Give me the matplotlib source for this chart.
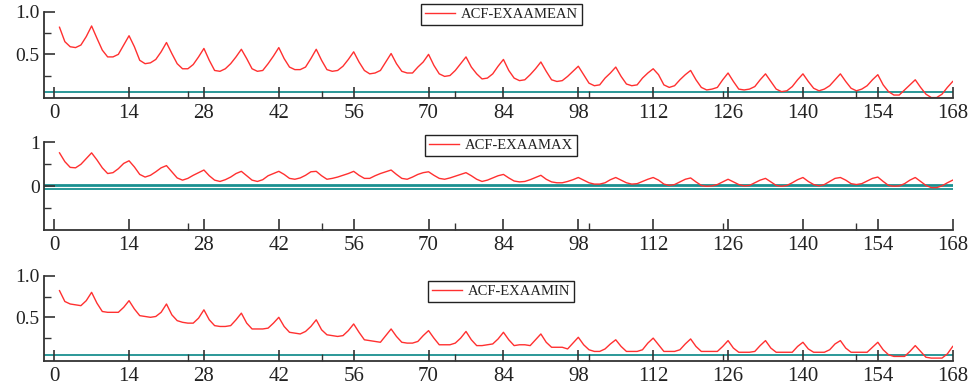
import matplotlib
matplotlib.use("Agg")
import matplotlib.pyplot as plt
from matplotlib.ticker import FixedLocator

plt.rcParams["font.family"] = ["Liberation Serif", "DejaVu Serif"]

# autocorrelation values for lags 1..168
lags = list(range(1, 169))

acf_mean = [
    0.82, 0.65, 0.59, 0.58, 0.61, 0.71, 0.835, 0.69, 0.55, 0.47, 0.47, 0.50, 0.61, 0.72,
    0.59, 0.43, 0.39, 0.40, 0.44, 0.53, 0.64, 0.51, 0.39, 0.33, 0.33, 0.38, 0.47, 0.57,
    0.43, 0.31, 0.30, 0.33, 0.39, 0.47, 0.56, 0.45, 0.33, 0.30, 0.31, 0.39, 0.48, 0.58,
    0.45, 0.35, 0.32, 0.32, 0.35, 0.45, 0.56, 0.43, 0.32, 0.30, 0.31, 0.36, 0.44, 0.53,
    0.41, 0.31, 0.27, 0.28, 0.31, 0.41, 0.51, 0.39, 0.30, 0.28, 0.28, 0.35, 0.41, 0.50,
    0.37, 0.27, 0.24, 0.25, 0.31, 0.39, 0.47, 0.35, 0.27, 0.21, 0.22, 0.27, 0.36, 0.44,
    0.31, 0.22, 0.19, 0.20, 0.26, 0.33, 0.41, 0.30, 0.20, 0.18, 0.19, 0.24, 0.30, 0.36,
    0.26, 0.16, 0.13, 0.14, 0.22, 0.28, 0.35, 0.24, 0.15, 0.13, 0.14, 0.22, 0.28, 0.33,
    0.26, 0.14, 0.11, 0.13, 0.20, 0.26, 0.31, 0.20, 0.11, 0.08, 0.09, 0.11, 0.20, 0.28,
    0.18, 0.09, 0.08, 0.09, 0.12, 0.20, 0.27, 0.18, 0.09, 0.06, 0.07, 0.12, 0.20, 0.27,
    0.18, 0.10, 0.07, 0.09, 0.13, 0.20, 0.27, 0.18, 0.10, 0.07, 0.09, 0.13, 0.20, 0.26,
    0.14, 0.06, 0.02, 0.02, 0.08, 0.14, 0.20, 0.11, 0.03, -0.01, -0.01, 0.03, 0.11, 0.18,
]

acf_max = [
    0.76, 0.56, 0.43, 0.42, 0.50, 0.63, 0.76, 0.60, 0.42, 0.29, 0.31, 0.40, 0.52, 0.58,
    0.44, 0.27, 0.21, 0.25, 0.33, 0.42, 0.47, 0.33, 0.19, 0.14, 0.18, 0.25, 0.31, 0.37,
    0.24, 0.14, 0.11, 0.15, 0.21, 0.29, 0.34, 0.24, 0.14, 0.11, 0.15, 0.24, 0.29, 0.34,
    0.27, 0.18, 0.16, 0.19, 0.25, 0.33, 0.34, 0.24, 0.16, 0.18, 0.21, 0.25, 0.29, 0.34,
    0.25, 0.18, 0.18, 0.24, 0.29, 0.33, 0.37, 0.27, 0.18, 0.16, 0.21, 0.27, 0.31, 0.33,
    0.25, 0.18, 0.16, 0.19, 0.23, 0.27, 0.31, 0.24, 0.16, 0.11, 0.14, 0.19, 0.24, 0.27,
    0.19, 0.12, 0.10, 0.11, 0.15, 0.20, 0.25, 0.16, 0.10, 0.08, 0.08, 0.11, 0.15, 0.20,
    0.14, 0.08, 0.05, 0.05, 0.08, 0.15, 0.20, 0.14, 0.08, 0.05, 0.06, 0.11, 0.16, 0.20,
    0.14, 0.05, 0.02, 0.04, 0.10, 0.16, 0.19, 0.10, 0.02, 0.00, 0.01, 0.04, 0.10, 0.16,
    0.10, 0.04, 0.01, 0.02, 0.08, 0.14, 0.18, 0.10, 0.02, 0.00, 0.02, 0.08, 0.15, 0.20,
    0.11, 0.04, 0.01, 0.04, 0.11, 0.18, 0.20, 0.14, 0.06, 0.04, 0.06, 0.12, 0.18, 0.21,
    0.11, 0.02, 0.00, 0.01, 0.06, 0.14, 0.20, 0.11, 0.02, -0.03, -0.03, 0.01, 0.08, 0.14,
]

acf_min = [
    0.82, 0.69, 0.66, 0.65, 0.64, 0.70, 0.80, 0.67, 0.57, 0.56, 0.56, 0.56, 0.62, 0.70,
    0.60, 0.52, 0.51, 0.50, 0.51, 0.56, 0.66, 0.53, 0.46, 0.44, 0.43, 0.43, 0.49, 0.59,
    0.47, 0.40, 0.39, 0.39, 0.40, 0.47, 0.55, 0.43, 0.36, 0.36, 0.36, 0.37, 0.43, 0.50,
    0.39, 0.32, 0.31, 0.30, 0.33, 0.39, 0.47, 0.35, 0.29, 0.28, 0.27, 0.28, 0.34, 0.42,
    0.32, 0.23, 0.22, 0.21, 0.20, 0.28, 0.36, 0.27, 0.20, 0.19, 0.19, 0.21, 0.28, 0.34,
    0.25, 0.17, 0.17, 0.17, 0.19, 0.25, 0.33, 0.23, 0.16, 0.16, 0.17, 0.18, 0.24, 0.32,
    0.23, 0.16, 0.17, 0.17, 0.16, 0.23, 0.30, 0.20, 0.14, 0.14, 0.14, 0.12, 0.19, 0.26,
    0.17, 0.11, 0.09, 0.09, 0.12, 0.18, 0.23, 0.15, 0.09, 0.09, 0.09, 0.11, 0.19, 0.25,
    0.17, 0.09, 0.09, 0.09, 0.11, 0.18, 0.24, 0.15, 0.09, 0.09, 0.09, 0.09, 0.15, 0.22,
    0.13, 0.08, 0.08, 0.08, 0.09, 0.16, 0.22, 0.13, 0.08, 0.08, 0.08, 0.08, 0.15, 0.20,
    0.12, 0.08, 0.08, 0.08, 0.11, 0.18, 0.22, 0.13, 0.08, 0.08, 0.08, 0.08, 0.14, 0.20,
    0.11, 0.05, 0.03, 0.03, 0.03, 0.09, 0.16, 0.09, 0.02, 0.01, 0.01, 0.01, 0.06, 0.15,
]

labels = ["ACF-EXAAMEAN", "ACF-EXAAMAX", "ACF-EXAAMIN"]

# significance bands drawn in teal
bands_mean = [0.05]
bands_max = [0.02, -0.07]
bands_min = [0.05]

x_major = list(range(0, 169, 14))
x_minor = [25, 50, 75, 100, 125, 150]

RED = "#ff3030"
TEAL = "#1a9090"
INK = "#333333"

fig = plt.figure(figsize=(9.72, 3.89), dpi=100)

left, width = 44 / 972, (952.7 - 44) / 972
panels = [
    # (bottom px, top px, series, label, bands, ylim, major yticks, ylabels, minor yticks, legend box left/top px)
    (98, 12, acf_mean, labels[0], bands_mean, (-0.015, 1.0), [0.5, 1.0], ["0.5", "1.0"], [0.25, 0.75], (421, 4)),
    (230.3, 142.3, acf_max, labels[1], bands_max, (-1.0, 1.0), [0, 1], ["0", "1"], [-0.5, 0.5], (425, 135)),
    (361, 275.7, acf_min, labels[2], bands_min, (-0.025, 1.0), [0.5, 1.0], ["0.5", "1.0"], [0.25, 0.75], (428, 281)),
]

for bot, top, series, label, bands, ylim, yt, ytl, ymin, (lx, ly) in panels:
    ax = fig.add_axes([left, 1 - bot / 389, width, (bot - top) / 389])
    for b in bands:
        ax.axhline(b, color=TEAL, lw=2.0 if len(bands) > 1 and b >= 0 else 1.3, zorder=1)
    ax.plot(lags, series, color=RED, lw=1.0, label=label, zorder=2)

    ax.set_xlim(-1.9, 168)
    ax.set_ylim(*ylim)
    ax.spines["top"].set_visible(False)
    ax.spines["right"].set_visible(False)
    for s in ("left", "bottom"):
        ax.spines[s].set_color(INK)
        ax.spines[s].set_linewidth(1.3)
    ax.spines["bottom"].set_bounds(-1.9, 168)

    ax.set_xticks(x_major)
    ax.set_xticklabels([str(v) for v in x_major])
    ax.xaxis.set_minor_locator(FixedLocator(x_minor))
    ax.set_yticks(yt)
    ax.set_yticklabels(ytl)
    ax.yaxis.set_minor_locator(FixedLocator(ymin))

    ax.tick_params(axis="both", which="major", direction="in", length=8,
                   width=1.2, color=INK, labelcolor="#222222")
    ax.tick_params(axis="both", which="minor", direction="in", length=5,
                   width=1.0, color=INK)
    ax.tick_params(axis="x", which="major", labelsize=15, pad=4)
    ax.tick_params(axis="y", which="major", labelsize=14, pad=3)

    leg = ax.legend(loc="upper left", bbox_to_anchor=(lx / 972, 1 - ly / 389),
                    bbox_transform=fig.transFigure, fontsize=10.5, frameon=True,
                    fancybox=False, framealpha=1, edgecolor="#222222",
                    borderpad=0.25, borderaxespad=0, handlelength=2.1,
                    handletextpad=0.4)
    leg.get_frame().set_linewidth(1.0)
    for t in leg.get_texts():
        t.set_color("#222222")

fig.savefig("out.png", dpi=100)
